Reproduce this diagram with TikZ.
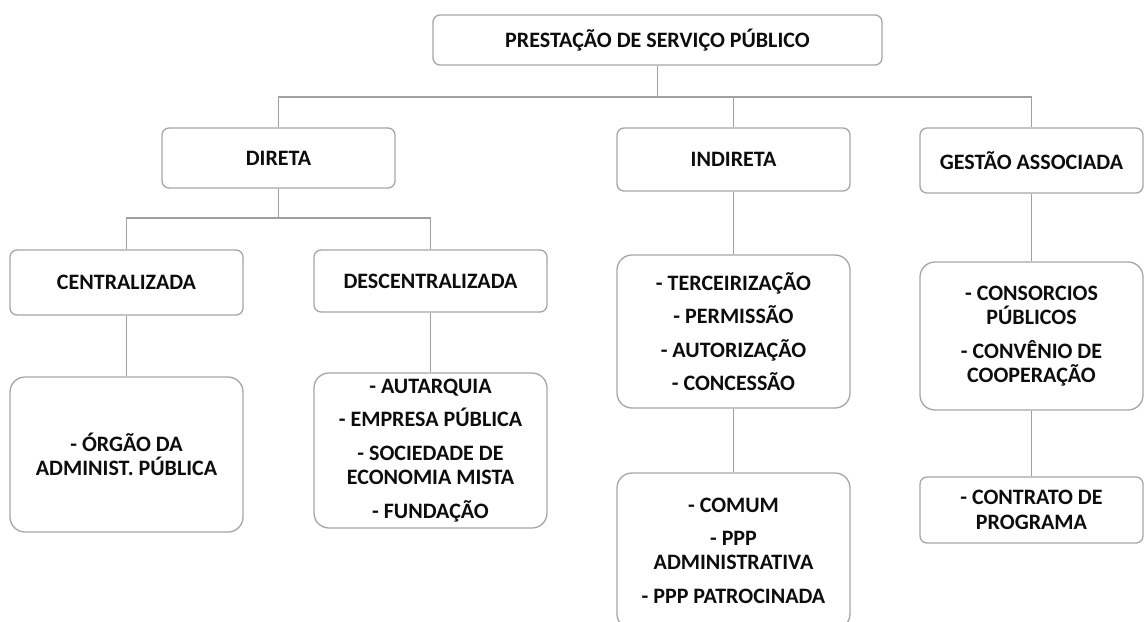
\documentclass[tikz,border=0pt]{standalone}
\usepackage{fontspec}
\setmainfont{Carlito}
\definecolor{boxline}{HTML}{A6A6A6}
\definecolor{conn}{HTML}{A0A0A0}
\definecolor{txt}{HTML}{0D0D0D}
\begin{document}
\begin{tikzpicture}[x=1pt,y=-1pt,
  box/.style={draw=boxline, line width=1.3pt, rounded corners=7pt, fill=white,
    align=center, text=txt, inner sep=0pt,
    font=\fontsize{22}{24.5}\selectfont\bfseries},
  bigbox/.style={box, rounded corners=15pt},
  link/.style={draw=conn, line width=1.3pt}]
\useasboundingbox (0,0) rectangle (1145,621);
\clip (0,0) rectangle (1145,621);
\fill[white] (0,0) rectangle (1145,621);

\node[box, minimum width=449pt, minimum height=50pt] (top) at (657.5,40) {PRESTAÇÃO DE SERVIÇO PÚBLICO};
\node[box, minimum width=233pt, minimum height=60pt] (direta) at (278.5,158) {DIRETA};
\node[box, minimum width=233pt, minimum height=63pt] (indireta) at (733.5,159.5) {INDIRETA};
\node[box, minimum width=223pt, minimum height=65pt] (gestao) at (1031.5,160.5) {GESTÃO ASSOCIADA};
\node[box, minimum width=233pt, minimum height=65pt] (central) at (126.5,282.5) {CENTRALIZADA};
\node[box, minimum width=233pt, minimum height=62pt] (descent) at (430.5,281) {DESCENTRALIZADA};

\node[bigbox, minimum width=233pt, minimum height=155pt] (orgao) at (126.5,454.5) {- ÓRGÃO DA\\ADMINIST. PÚBLICA};
\node[bigbox, minimum width=233pt, minimum height=155pt] (descitens) at (430.5,450.5) {- AUTARQUIA\\[9pt]- EMPRESA PÚBLICA\\[9pt]- SOCIEDADE DE\\ECONOMIA MISTA\\[9pt]- FUNDAÇÃO};
\node[bigbox, minimum width=233pt, minimum height=153pt] (inditens) at (733.5,331.5) {- TERCEIRIZAÇÃO\\[9pt]- PERMISSÃO\\[9pt]- AUTORIZAÇÃO\\[9pt]- CONCESSÃO};
\node[bigbox, minimum width=233pt, minimum height=156pt] (ppp) at (733.5,551) {- COMUM\\[8pt]- PPP\\ADMINISTRATIVA\\[9pt]- PPP PATROCINADA};
\node[bigbox, minimum width=223pt, minimum height=148pt] (gesitens) at (1031.5,336) {- CONSORCIOS\\PÚBLICOS\\[9pt]- CONVÊNIO DE\\COOPERAÇÃO};
\node[box, minimum width=223pt, minimum height=66pt] (contrato) at (1031.5,510) {- CONTRATO DE\\PROGRAMA};

\coordinate (bus) at (0,97);
\coordinate (bus2) at (0,218);
\path[link] (top.south) -- (top.south |- bus);
\path[link] (direta.north) -- (direta.north |- bus) -- (gestao.north |- bus) -- (gestao.north);
\path[link] (indireta.north |- bus) -- (indireta.north);
\path[link] (direta.south) -- (direta.south |- bus2);
\path[link] (central.north) -- (central.north |- bus2) -- (descent.north |- bus2) -- (descent.north);
\path[link] (central.south) -- (orgao.north);
\path[link] (descent.south) -- (descitens.north);
\path[link] (indireta.south) -- (inditens.north);
\path[link] (inditens.south) -- (ppp.north);
\path[link] (gestao.south) -- (gesitens.north);
\path[link] (gesitens.south) -- (contrato.north);
\end{tikzpicture}
\end{document}
